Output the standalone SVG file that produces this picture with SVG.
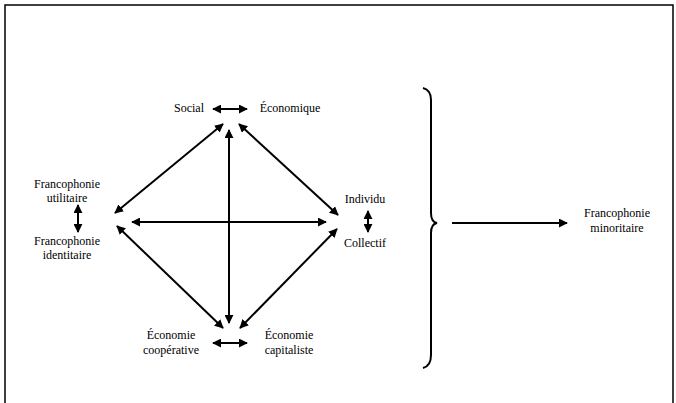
<svg xmlns="http://www.w3.org/2000/svg" width="676" height="403" viewBox="0 0 676 403">
<style>
text{font-family:"Liberation Serif",serif;font-size:12px;fill:#000;text-anchor:middle}
.c{stroke:#000;stroke-width:2;fill:none}
.a{marker-start:url(#ah);marker-end:url(#ah)}
</style>
<defs>
<marker id="ah" viewBox="0 0 10 10" refX="9" refY="5" markerWidth="9" markerHeight="9" markerUnits="userSpaceOnUse" orient="auto-start-reverse"><path d="M0,0 L10,5 L0,10 z" fill="#000"/></marker>
</defs>
<rect x="5" y="5" width="668" height="420" fill="#fff" stroke="#000" stroke-width="1.5"/>
<g id="social"><text x="189" y="112" font-family="Liberation Serif">Social</text></g>
<g id="economique"><text x="290" y="112" font-family="Liberation Serif">Économique</text></g>
<g id="franco-util"><text x="67" y="188" font-family="Liberation Serif">Francophonie</text><text x="67" y="202" font-family="Liberation Serif">utilitaire</text></g>
<g id="franco-ident"><text x="67" y="245" font-family="Liberation Serif">Francophonie</text><text x="67" y="259" font-family="Liberation Serif">identitaire</text></g>
<g id="individu"><text x="365" y="203" font-family="Liberation Serif">Individu</text></g>
<g id="collectif"><text x="365" y="247" font-family="Liberation Serif">Collectif</text></g>
<g id="eco-coop"><text x="171" y="339" font-family="Liberation Serif">Économie</text><text x="171" y="354" font-family="Liberation Serif">coopérative</text></g>
<g id="eco-cap"><text x="289" y="339" font-family="Liberation Serif">Économie</text><text x="289" y="354" font-family="Liberation Serif">capitaliste</text></g>
<g id="franco-min"><text x="617" y="217" font-family="Liberation Serif">Francophonie</text><text x="617" y="232" font-family="Liberation Serif">minoritaire</text></g>
<g id="brace"><path class="c" d="M423,88 Q431,90 431,100 L431,213 Q431,222 437,223 Q431,224 431,233 L431,355 Q431,366 423,368" stroke-width="1.5"/></g>
<g id="connectors" class="c">
<line class="a" x1="213" y1="109" x2="247" y2="109"/>
<line class="a" x1="78" y1="205" x2="78" y2="232"/>
<line class="a" x1="368" y1="211" x2="368" y2="232"/>
<line class="a" x1="213" y1="343" x2="247" y2="343"/>
<line class="a" x1="115" y1="213" x2="223" y2="124"/>
<line class="a" x1="239" y1="124" x2="338" y2="215"/>
<line class="a" x1="229" y1="130" x2="229" y2="323"/>
<line class="a" x1="132" y1="222" x2="326" y2="222"/>
<line class="a" x1="117" y1="226" x2="223" y2="328"/>
<line class="a" x1="240" y1="328" x2="337" y2="229"/>
<line x1="452" y1="223" x2="567" y2="223" marker-end="url(#ah)"/>
</g>
</svg>
